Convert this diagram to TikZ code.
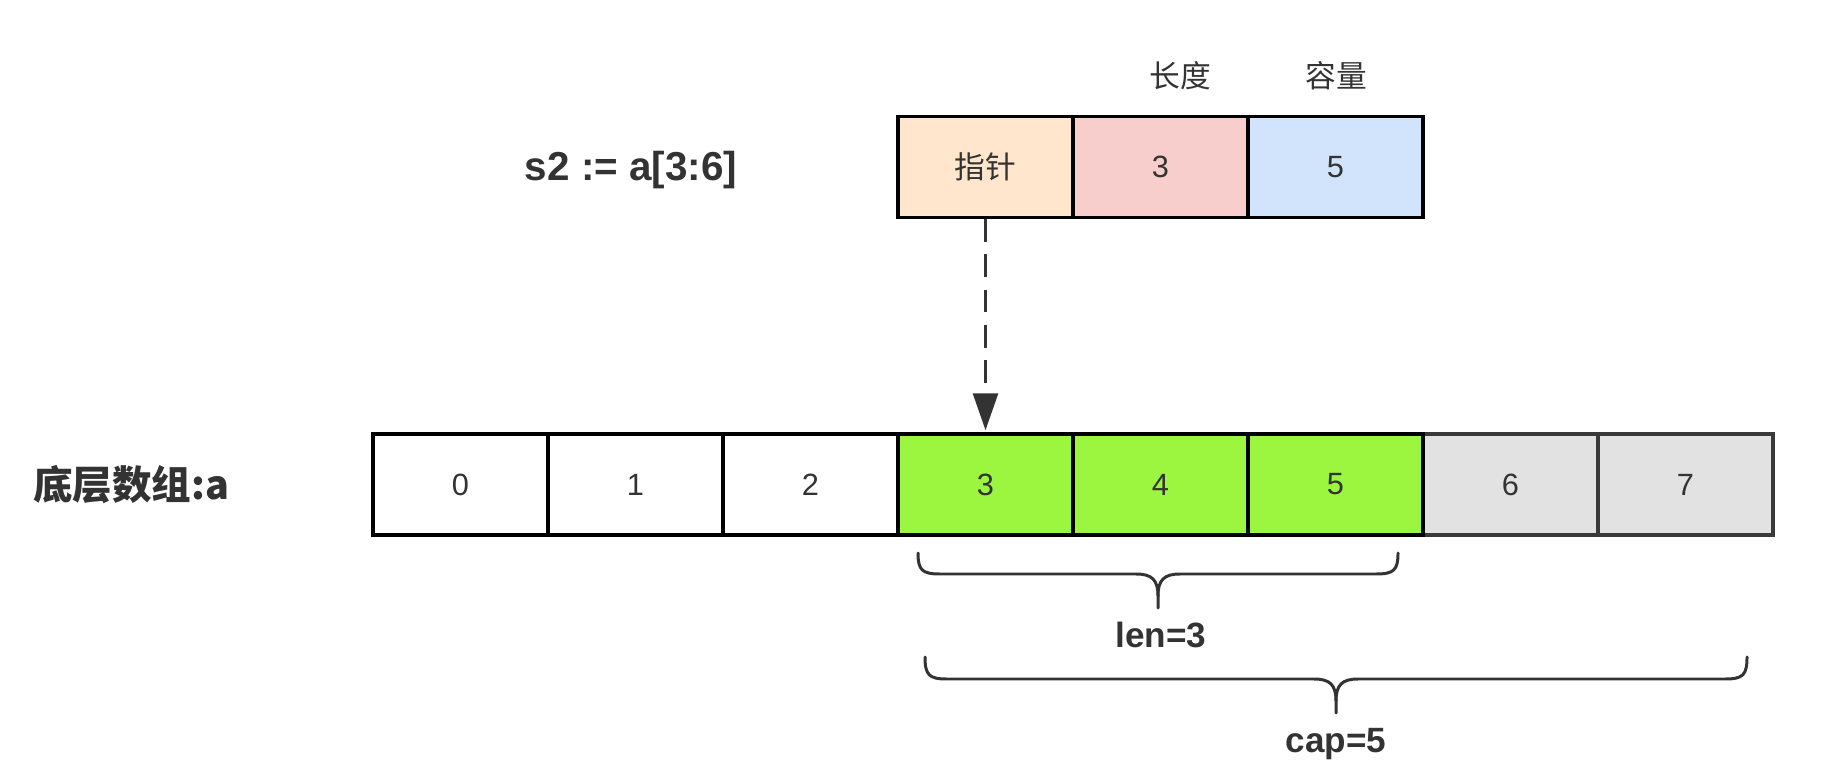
\documentclass[tikz,border=0pt]{standalone}
\usepackage{fontspec}
\setmainfont{Liberation Sans}
\newfontfamily\cjk{Noto Sans CJK SC}
\usetikzlibrary{arrows.meta}
\definecolor{txt}{HTML}{333333}
\definecolor{ptrfill}{HTML}{FFE6CC}
\definecolor{lenfill}{HTML}{F8CECC}
\definecolor{capfill}{HTML}{D2E4FB}
\definecolor{grn}{HTML}{9CF53F}
\definecolor{gry}{HTML}{E2E2E2}
\definecolor{gryline}{HTML}{3A3A3A}
\tikzset{
  cell/.style={draw=black, line width=2.2pt, minimum width=3.5cm, minimum height=2.02cm,
    inner sep=0pt, text=txt, font=\fontsize{17.5}{20}\selectfont},
  topcell/.style={cell, line width=2pt},
  graycell/.style={cell, fill=gry, draw=gryline},
  greencell/.style={cell, fill=grn},
  lbl/.style={text=txt, inner sep=0pt},
  brc/.style={draw=txt, line width=1.7pt, line cap=round, line join=round},
  ptrarrow/.style={draw=txt, line width=2.1pt, dash pattern=on 13pt off 7pt,
    -{Triangle[length=21pt,width=14pt]}, shorten >=1pt}
}
\begin{document}
\begin{tikzpicture}[x=0.02cm, y=-0.02cm]
\useasboundingbox (0,0) rectangle (1834,783);
% top slice header
\node[topcell, fill=ptrfill] (ptr) at (985.5,167) {\cjk 指针};
\node[topcell, fill=lenfill] (len) at (1160.5,167) {3};
\node[topcell, fill=capfill] (cap) at (1335.5,167) {5};
\node[lbl, font=\cjk\fontsize{17.5}{20}\selectfont] (lenhdr) at (1180,76) {长度};
\node[lbl, font=\cjk\fontsize{17.5}{20}\selectfont] (caphdr) at (1336,76) {容量};
\node[lbl, font=\bfseries\fontsize{23}{26}\selectfont, anchor=base] (s2) at (631,181) {s2 := a[3:6]};
% underlying array
\node[cell, fill=white] (c0) at (460.5,484.5) {0};
\node[cell, fill=white] (c1) at (635.5,484.5) {1};
\node[cell, fill=white] (c2) at (810.5,484.5) {2};
\node[graycell] (c6) at (1510.5,484.5) {6};
\node[graycell] (c7) at (1685.5,484.5) {7};
\node[greencell] (c3) at (985.5,484.5) {3};
\node[greencell] (c4) at (1160.5,484.5) {4};
\node[greencell] (c5) at (1335.5,484.5) {5};
\node[lbl, anchor=west, font=\cjk\bfseries\fontsize{22.5}{26}\selectfont] (arr) at (33,485) {底层数组:a};
% pointer arrow
\draw[ptrarrow] (ptr.south) -- (c3.north);
% len brace
\draw[brc] (918,553) .. controls (918,570) and (922,574) .. (940,574) -- (1136,574)
  .. controls (1152,574) and (1158,580) .. (1158,596) -- (1158,608);
\draw[brc] (1158,596) .. controls (1158,580) and (1164,574) .. (1180,574) -- (1376,574)
  .. controls (1394,574) and (1398,570) .. (1398,553);
% cap brace
\draw[brc] (925,657) .. controls (925,675) and (929,679) .. (947,679) -- (1314,679)
  .. controls (1330,679) and (1336,685) .. (1336,701) -- (1336,713);
\draw[brc] (1336,701) .. controls (1336,685) and (1342,679) .. (1358,679) -- (1725,679)
  .. controls (1743,679) and (1747,675) .. (1747,657);
\node[lbl, anchor=base, font=\bfseries\fontsize{20}{24}\selectfont] (lenlbl) at (1161,647) {len=3};
\node[lbl, anchor=base, font=\bfseries\fontsize{20}{24}\selectfont] (caplbl) at (1336,752) {cap=5};
\end{tikzpicture}
\end{document}
